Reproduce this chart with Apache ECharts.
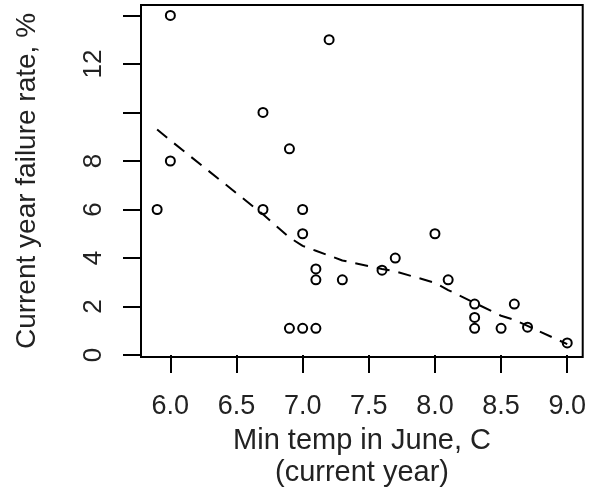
<!DOCTYPE html>
<html>
<head>
<meta charset="utf-8">
<script src="https://cdn.jsdelivr.net/npm/echarts@6/dist/echarts.min.js"></script>
<style>
html,body{margin:0;padding:0;background:#fff;}
#chart{width:589px;height:488px;}
</style>
</head>
<body>
<div id="chart"></div>
<script>
// Observed points: min temp in June (C) and current-year failure rate (%)
var tempX    = [5.9, 6.0, 6.0, 6.7, 6.7, 6.9, 6.9, 7.0, 7.0, 7.0, 7.1, 7.1, 7.1, 7.2, 7.3, 7.6, 7.7, 8.0, 8.1, 8.3, 8.3, 8.3, 8.5, 8.6, 8.7, 9.0];
var failRate = [6.0, 14.0, 8.0, 10.0, 6.0, 8.5, 1.1, 6.0, 5.0, 1.1, 3.55, 3.1, 1.1, 13.0, 3.1, 3.5, 4.0, 5.0, 3.1, 2.1, 1.55, 1.1, 1.1, 2.1, 1.15, 0.5];

// Smoothed (lowess) curve, read at each distinct x
var smoothX = [5.9, 6.0, 6.7, 6.9, 7.0, 7.1, 7.2, 7.3, 7.6, 7.7, 8.0, 8.1, 8.3, 8.5, 8.6, 8.7, 9.0];
var smoothY = [9.3, 8.85, 5.8, 4.85, 4.5, 4.3, 4.1, 3.9, 3.55, 3.45, 2.98, 2.68, 2.15, 1.62, 1.45, 1.2, 0.45];

// Axis ticks and labels
var xTicks = [6.0, 6.5, 7.0, 7.5, 8.0, 8.5, 9.0];
var yTicks = [0, 2, 4, 6, 8, 10, 12, 14];
var yLabels = [0, 2, 4, 6, 8, 12];

var xTitle1 = 'Min temp in June, C';
var xTitle2 = '(current year)';
var yTitle = 'Current year failure rate, %';

var pts = tempX.map(function (x, i) { return [x, failRate[i]]; });
var curve = smoothX.map(function (x, i) { return [x, smoothY[i]]; });

var txt = '#222';
var fam = '"Liberation Sans", Arial, sans-serif';

var chart = echarts.init(document.getElementById('chart'), null, {renderer: 'canvas'});
chart.setOption({
  animation: false,
  backgroundColor: '#fff',
  grid: {
    left: 141, right: 1, top: 5, bottom: 131,
    show: true, borderColor: '#000', borderWidth: 2, backgroundColor: 'transparent',
    containLabel: false
  },
  xAxis: {
    type: 'value', min: 5.778, max: 9.117,
    axisLine: {show: false},
    splitLine: {show: false},
    axisTick: {show: true, customValues: xTicks, length: 18, lineStyle: {color: '#000', width: 2}},
    axisLabel: {
      customValues: xTicks, margin: 36, color: txt, fontFamily: fam, fontSize: 27,
      formatter: function (v) { return Number(v).toFixed(1); }
    }
  },
  yAxis: {
    type: 'value', min: -0.08, max: 14.43,
    axisLine: {show: false},
    splitLine: {show: false},
    axisTick: {show: true, customValues: yTicks, length: 18, lineStyle: {color: '#000', width: 2}},
    axisLabel: {
      customValues: yLabels, rotate: 90, margin: 34, color: txt, fontFamily: fam, fontSize: 26,
      formatter: function (v) { return String(v); }
    }
  },
  graphic: [
    {type: 'text', x: 362, y: 441, style: {text: xTitle1, fill: txt, font: '29px ' + fam, textAlign: 'center', textVerticalAlign: 'middle'}},
    {type: 'text', x: 362, y: 473, style: {text: xTitle2, fill: txt, font: '29px ' + fam, textAlign: 'center', textVerticalAlign: 'middle'}},
    {type: 'text', x: 27, y: 181, rotation: Math.PI / 2, style: {text: yTitle, fill: txt, font: '28px ' + fam, textAlign: 'center', textVerticalAlign: 'middle'}}
  ],
  series: [
    {
      type: 'line', data: curve, showSymbol: false, smooth: false,
      lineStyle: {color: '#000', width: 2, type: [13, 9]},
      z: 3
    },
    {
      type: 'scatter', data: pts, symbol: 'circle', symbolSize: 9,
      itemStyle: {color: 'rgba(0,0,0,0)', borderColor: '#000', borderWidth: 2, opacity: 1},
      z: 4
    }
  ]
});
</script>
</body>
</html>
